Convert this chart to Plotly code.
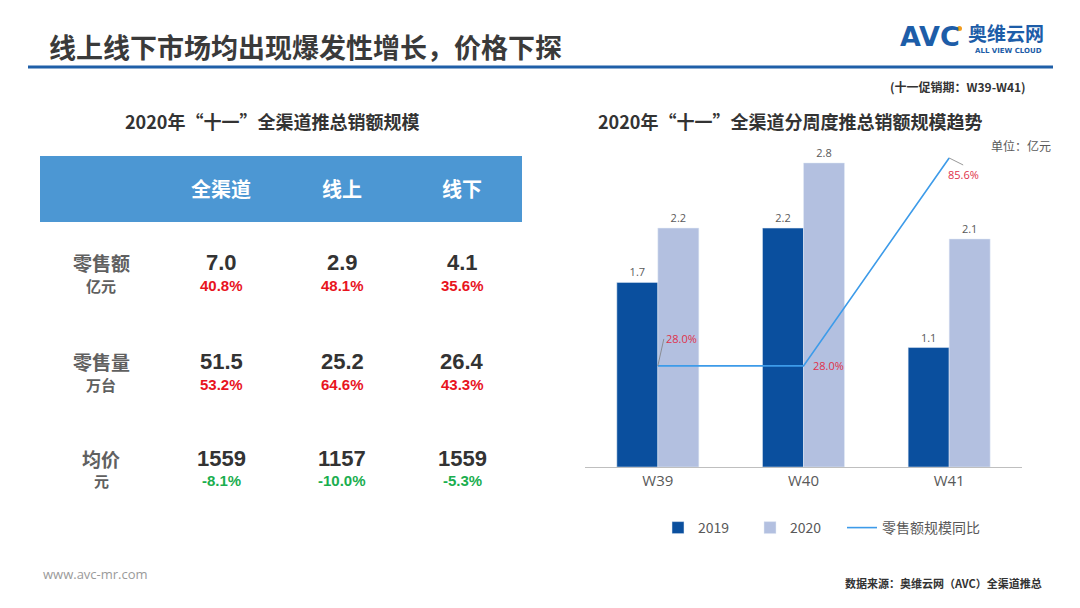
import plotly.graph_objects as go

# ---------------- data ----------------
weeks = ["W39", "W40", "W41"]
sales_2019 = [1.7, 2.2, 1.1]
sales_2020 = [2.2, 2.8, 2.1]
yoy_pct = [28.0, 28.0, 85.6]

table_cols = ["全渠道", "线上", "线下"]
table_rows = ["零售额", "零售量", "均价"]
table_units = ["亿元", "万台", "元"]
table_values = [["7.0", "2.9", "4.1"],
                ["51.5", "25.2", "26.4"],
                ["1559", "1157", "1559"]]
table_changes = [[40.8, 48.1, 35.6],
                 [53.2, 64.6, 43.3],
                 [-8.1, -10.0, -5.3]]

W, H = 1080, 608
CJK = "Noto Sans CJK SC"
NARROW = "Liberation Sans Narrow, Liberation Sans, Arial, sans-serif"


def px(x):
    return x / W


def py(y):
    return 1 - y / H


C2019 = "#0a4f9e"
C2020 = "#b3c0e0"
CLINE = "#3d9be9"
CRED = "#e0314b"

fig = go.Figure()
fig.add_trace(go.Bar(x=weeks, y=sales_2019, name="2019", marker_color=C2019,
                     text=[f"{v:.1f}" for v in sales_2019], textposition="outside",
                     textfont=dict(size=11, color="#595959", family="Open Sans"),
                     cliponaxis=False, legend="legend"))
fig.add_trace(go.Bar(x=weeks, y=sales_2020, name="2020", marker_color=C2020,
                     text=[f"{v:.1f}" for v in sales_2020], textposition="outside",
                     textfont=dict(size=11, color="#595959", family="Open Sans"),
                     cliponaxis=False, legend="legend"))
fig.add_trace(go.Scatter(x=weeks, y=yoy_pct, name="零售额规模同比", mode="lines",
                         line=dict(color=CLINE, width=1.6), yaxis="y2", legend="legend2"))

ann = []
# line labels
lab_font = dict(size=11, color=CRED, family="Open Sans")
ann.append(dict(x=weeks[0], y=yoy_pct[0], xref="x", yref="y2", text=f"{yoy_pct[0]:.1f}%",
                showarrow=True, arrowhead=0, arrowwidth=0.8, arrowcolor="#7f7f7f",
                ax=6, ay=-27, xanchor="left", yanchor="middle", font=lab_font))
ann.append(dict(x=weeks[1], y=yoy_pct[1], xref="x", yref="y2", text=f"{yoy_pct[1]:.1f}%",
                showarrow=False, xanchor="left", yanchor="middle", xshift=7, font=lab_font))
ann.append(dict(x=weeks[2], y=yoy_pct[2], xref="x", yref="y2", text=f"{yoy_pct[2]:.1f}%",
                showarrow=True, arrowhead=0, arrowwidth=0.8, arrowcolor="#7f7f7f",
                ax=14, ay=7, xanchor="center", yanchor="top", font=lab_font))


# ---------------- page texts (positioned by their centres) ----------------
def T(x, y, text, size, color, family=CJK, bold=False):
    if bold:
        text = f"<b>{text}</b>"
    ann.append(dict(x=px(x), y=py(y), xref="paper", yref="paper", text=text, showarrow=False,
                    xanchor="center", yanchor="middle",
                    font=dict(size=size, color=color, family=family)))


T(305, 46, "线上线下市场均出现爆发性增长，价格下探", 27, "#3a3a3a", bold=True)
# logo
T(930, 37, "AVC", 27, "#1d5da8", family="DejaVu Sans", bold=True)
T(1006, 33, "奥维云网", 19, "#1d5da8", bold=True)
T(1008, 51, "ALL VIEW CLOUD", 7, "#1d5da8", family="DejaVu Sans", bold=True)
T(958, 87, "(十一促销期：W39-W41)", 12, "#333333", bold=True)

T(272, 121, "2020年“十一”全渠道推总销额规模", 18, "#333333", bold=True)
T(790, 121, "2020年“十一”全渠道分周度推总销额规模趋势", 18, "#333333", bold=True)
T(1021, 145, "单位：亿元", 12, "#595959")

# table
col_x = [221, 342, 462]
row_y = [262, 361, 458]
for cx, c in zip(col_x, table_cols):
    T(cx, 189, c, 20, "#ffffff", bold=True)
for ry, r, u, vals, chg in zip(row_y, table_rows, table_units, table_values, table_changes):
    T(101, ry, r, 19, "#606060", bold=True)
    T(101, ry + 23, u, 15, "#606060", bold=True)
    for cx, v, c in zip(col_x, vals, chg):
        T(cx, ry, v, 22, "#333333", family=NARROW, bold=True)
        color = "#e8141e" if c > 0 else "#1aae4f"
        T(cx, ry + 23, f"{c:.1f}%", 15, color, family=NARROW, bold=True)

T(95, 574, "www.avc-mr.com", 13, "#9a9a9a", family="Open Sans")
T(943, 583, "数据来源：奥维云网（AVC）全渠道推总", 11, "#333333", bold=True)

shapes = [
    dict(type="line", xref="paper", yref="paper", x0=px(28), x1=px(1053), y0=py(67), y1=py(67),
         line=dict(color="#1f5fa8", width=3)),
    dict(type="rect", xref="paper", yref="paper", x0=px(40), x1=px(522), y0=py(222), y1=py(156),
         fillcolor="#4c97d3", line=dict(width=0), layer="below"),
    dict(type="circle", xref="paper", yref="paper", x0=px(957), x1=px(962), y0=py(31), y1=py(26),
         fillcolor="#f29b1d", line=dict(width=0)),
]

top, bottom = 150, 467
leg_font = dict(size=14, color="#595959", family=CJK)
fig.update_layout(
    width=W, height=H,
    margin=dict(l=0, r=0, t=0, b=0),
    paper_bgcolor="white", plot_bgcolor="rgba(0,0,0,0)",
    barmode="group", bargap=0.437, bargroupgap=0,
    xaxis=dict(domain=[px(585), px(1022)], showline=True, linecolor="#bfbfbf", linewidth=1,
               ticks="", tickfont=dict(size=15, color="#595959", family="Open Sans"),
               showgrid=False, zeroline=False),
    yaxis=dict(domain=[py(bottom), py(top)], range=[0, (bottom - top) / 108.6],
               visible=False, showgrid=False),
    yaxis2=dict(overlaying="y", range=[0, (bottom - top) / 3.61], visible=False, showgrid=False),
    legend=dict(orientation="h", x=px(658), y=py(528), xanchor="left", yanchor="middle",
                font=leg_font, entrywidth=47, entrywidthmode="pixels",
                bgcolor="rgba(0,0,0,0)", itemclick=False),
    legend2=dict(orientation="h", x=px(842), y=py(528), xanchor="left", yanchor="middle",
                 font=leg_font, bgcolor="rgba(0,0,0,0)", itemclick=False),
    annotations=ann, shapes=shapes,
    showlegend=True,
)

fig.write_html("out.html", post_script="document.body.style.margin='0';",
               config={"displayModeBar": False})
